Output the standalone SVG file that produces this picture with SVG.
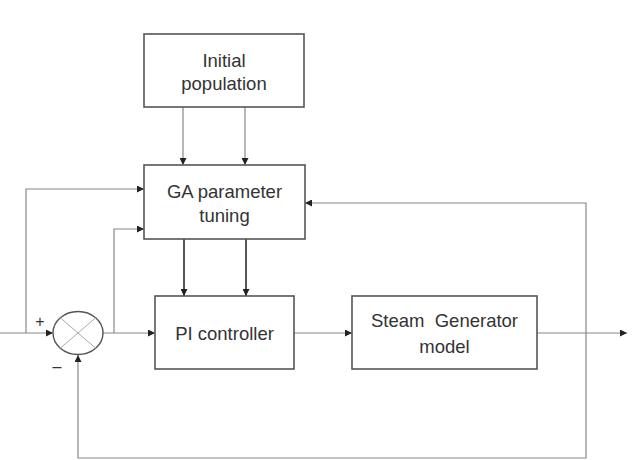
<svg xmlns="http://www.w3.org/2000/svg" width="635" height="460" viewBox="0 0 635 460">
<defs>
<style>
.box{fill:#fff;stroke:#555;stroke-width:1.6}
.ln{fill:none;stroke:#888;stroke-width:1.2}
.thk{fill:none;stroke:#555;stroke-width:2}
.t{font-family:"Liberation Sans",Arial,sans-serif;font-size:18.5px;fill:#333;text-anchor:middle}
</style>
<marker id="ah" viewBox="0 0 10 10" refX="10" refY="5" markerWidth="7" markerHeight="7" markerUnits="userSpaceOnUse" orient="auto"><path d="M0,0L10,5L0,10z" fill="#222"/></marker>
</defs>
<rect width="635" height="460" fill="#fff"/>
<g id="connectors">
<path class="ln" d="M183,107V165" marker-end="url(#ah)"/>
<path class="ln" d="M245,107V165" marker-end="url(#ah)"/>
<path class="thk" d="M184,239V296" marker-end="url(#ah)"/>
<path class="thk" d="M246,239V296" marker-end="url(#ah)"/>
<path class="ln" d="M0,333H53" marker-end="url(#ah)"/>
<path class="ln" d="M26,333V189H144" marker-end="url(#ah)"/>
<path class="ln" d="M103,333H155" marker-end="url(#ah)"/>
<path class="ln" d="M114,333V229H144" marker-end="url(#ah)"/>
<path class="ln" d="M294,333H352" marker-end="url(#ah)"/>
<path class="ln" d="M537,333H627" marker-end="url(#ah)"/>
<path class="ln" d="M586,333V458H78V355" marker-end="url(#ah)"/>
<path class="ln" d="M586,333V203H305" marker-end="url(#ah)"/>
</g>
<g id="sum">
<ellipse cx="78" cy="333" rx="25" ry="21.5" fill="#fff" stroke="#555" stroke-width="1.4"/>
<path d="M60.3,317.8L95.7,348.2M95.7,317.8L60.3,348.2" stroke="#aaa" stroke-width="1"/>
<text class="t" x="40" y="327" style="font-size:16px">+</text>
<text class="t" x="57" y="372" style="font-size:16px">–</text>
</g>
<g id="initial">
<rect class="box" x="144" y="34" width="160" height="73"/>
<text class="t" x="224" y="67">Initial</text>
<text class="t" x="224" y="90">population</text>
</g>
<g id="ga">
<rect class="box" x="144" y="165" width="161" height="74"/>
<text class="t" x="224.5" y="198">GA parameter</text>
<text class="t" x="224.5" y="222">tuning</text>
</g>
<g id="pi">
<rect class="box" x="155" y="296" width="139" height="73"/>
<text class="t" x="224.5" y="340">PI controller</text>
</g>
<g id="sg">
<rect class="box" x="352" y="296" width="185" height="73"/>
<text class="t" x="444.5" y="327" xml:space="preserve">Steam  Generator</text>
<text class="t" x="444.5" y="353">model</text>
</g>
</svg>
